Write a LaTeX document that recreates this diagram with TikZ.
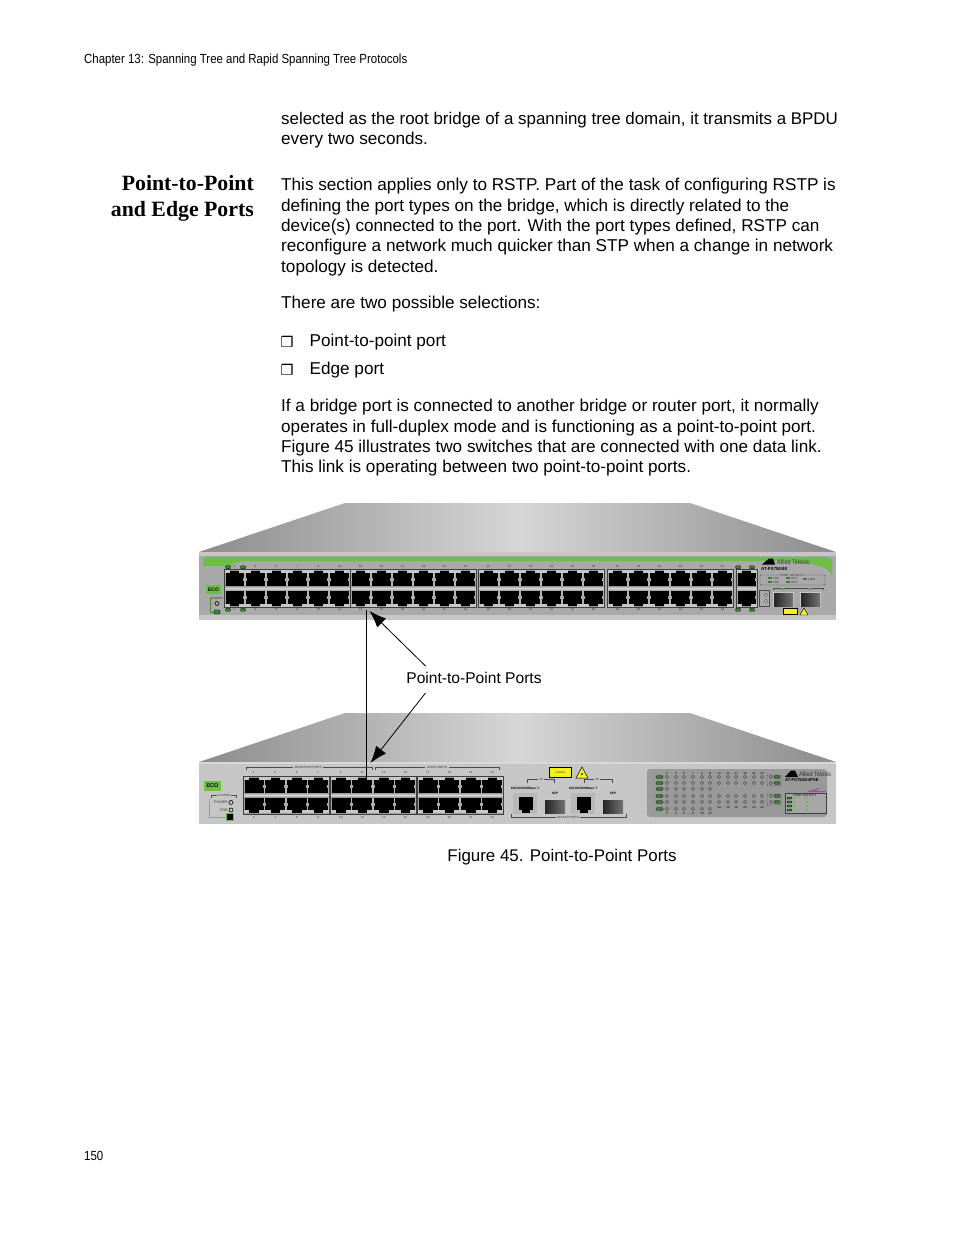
\documentclass[tikz,border=0pt]{standalone}
\usepackage{fontspec}
\setmainfont{Liberation Sans}
\newfontfamily\headserif{Liberation Serif}
\newfontfamily\symbfont{DejaVu Sans}
\usetikzlibrary{arrows.meta}
\definecolor{panelgrey}{HTML}{A9A9A9}
\definecolor{lowgrey}{HTML}{C6C6C6}
\definecolor{framegrey}{HTML}{9A9A9A}
\definecolor{tabgrey}{HTML}{C8C8C8}
\definecolor{atigreen}{HTML}{6CBE45}
\definecolor{ledgreen}{HTML}{3F7F35}
\definecolor{warnyellow}{HTML}{F4F01E}
\newcommand{\bodyfont}{\fontsize{17.15}{20.45}\selectfont}
\newcommand{\tightfont}{\fontsize{16.92}{20.45}\selectfont}
\newcommand{\microfont}{\fontsize{3}{3.4}\selectfont}
% one block of RJ ports: x, y, columns, column width, row height, gap
\newcommand{\rjblock}[6]{
  \fill[framegrey] (#1,#2) rectangle ++({#3*#4},{2*#5+#6});
  \begin{scope}
    \clip (#1,#2) rectangle ++({#3*#4},{2*#5+#6});
    \fill[black] ({#1+1.5},{#2+1.5}) rectangle ++({#3*#4-3},{#5-1.5});
    \fill[black] ({#1+1.5},{#2+#5+#6}) rectangle ++({#3*#4-3},{#5-1.5});
    \foreach \c in {0,...,#3} {
      \fill[framegrey!75] ({#1+\c*#4-.9},{#2+1}) rectangle ++(1.8,{2*#5+#6-2});
      \fill[tabgrey!85!black] ({#1+\c*#4-1.6},{#2+#5*.5}) rectangle ++(3.2,3);
      \fill[tabgrey!85!black] ({#1+\c*#4-1.6},{#2+#5*1.5+#6-3}) rectangle ++(3.2,3);
      \fill[tabgrey] ({#1+\c*#4-6},{#2+1}) rectangle ++(12,2.6);
      \fill[tabgrey] ({#1+\c*#4-6},{#2+2*#5+#6-3.6}) rectangle ++(12,2.6);
    }
  \end{scope}
  \shade[top color=framegrey,bottom color=framegrey,middle color=white!85!black] (#1,{#2+#5}) rectangle ++({#3*#4},#6);
  \draw[black!75,line width=.6pt] (#1,#2) rectangle ++({#3*#4},{2*#5+#6});
}
% one SFP cage: x, y, width, height
\newcommand{\sfpcage}[4]{
  \fill[tabgrey] (#1,#2) rectangle ++(#3,#4);
  \shade[left color=black!85,right color=black!55] ({#1+1},{#2+1}) rectangle ++({#3-2},{#4-2});
}
\tikzset{
  bodytext/.style={anchor=north west,align=left,inner sep=0pt,font=\bodyfont},
  pagetext/.style={anchor=base west,inner sep=0pt,font=\fontsize{13.2}{15}\selectfont,xscale=.868},
  microtext/.style={inner sep=0pt,font=\microfont,text=black!80},
  roof/.style={left color=black!45,right color=black!45,middle color=black!16},
  portarrow/.style={-{Latex[length=17pt,width=12.5pt]},line width=.8pt},
  ledpill/.style={fill=ledgreen,draw=black,line width=.3pt,rounded corners=.8pt},
  ledhole/.style={draw=black!80,fill=black!15,line width=.4pt},
}
\begin{document}
\begin{tikzpicture}[x=1pt,y=-1pt]
  \useasboundingbox (0,0) rectangle (954,1235);
  \fill[white] (0,0) rectangle (954,1235);

  % page text
  \node (chapter) [pagetext] at (84,63) {Chapter 13: Spanning Tree and Rapid Spanning Tree Protocols};
  \node (pagenum) [pagetext] at (84,1160) {150};
  \node (intro) [bodytext,font=\tightfont] at (281,112) {selected as the root bridge of a spanning tree domain, it transmits a BPDU\\{\bodyfont every two seconds.}};
  \node (heading) [anchor=north east,align=right,inner sep=0pt,font=\headserif\bfseries\fontsize{21.8}{26}\selectfont] at (254,175) {Point-to-Point\\and Edge Ports};
  \node (applies) [bodytext] at (281,178) {This section applies only to RSTP. Part of the task of configuring RSTP is\\defining the port types on the bridge, which is directly related to the\\device(s) connected to the port. With the port types defined, RSTP can\\reconfigure a network much quicker than STP when a change in network\\topology is detected.};
  \node (selections) [bodytext] at (281,296) {There are two possible selections:};
  \node (bulletA) [inner sep=0pt,font=\symbfont\fontsize{14.5}{14.5}\selectfont] at (287,342) {❒};
  \node (bulletB) [inner sep=0pt,font=\symbfont\fontsize{14.5}{14.5}\selectfont] at (287,370) {❒};
  \node (itemA) [bodytext] at (309.5,334) {Point-to-point port};
  \node (itemB) [bodytext] at (309.5,362) {Edge port};
  \node (bridge) [bodytext] at (281,399) {If a bridge port is connected to another bridge or router port, it normally\\operates in full-duplex mode and is functioning as a point-to-point port.\\Figure 45 illustrates two switches that are connected with one data link.\\This link is operating between two point-to-point ports.};
  \node (caption) [bodytext,anchor=north,font=\tightfont] at (562,849) {Figure 45. Point-to-Point Ports};

  % upper switch
  \shade[roof] (199,552) -- (345,503) -- (690,503) -- (836,552) -- cycle;
  \fill[panelgrey] (199,552) rectangle (836,620);
  \fill[lowgrey] (199,552) rectangle (836,556);
  \fill[lowgrey] (199,615) rectangle (836,620);
  \fill[atigreen] (203,566) -- (203,559) -- (206,557) -- (828,557) -- (832,560) -- (832,576) .. controls (829,566) and (815,562) .. (770,561) -- (245,561) .. controls (238,561) and (234,563) .. (230,566) -- cycle;
  \foreach \gx [count=\g from 0] in {224,350,478,607} {
    \rjblock{\gx}{569}{6}{21}{17}{4.5}
    \foreach \c in {1,...,6} {
      \pgfmathtruncatemacro{\odd}{12*\g+2*\c-1}
      \pgfmathtruncatemacro{\even}{12*\g+2*\c}
      \node (upodd\odd) [microtext] at ({\gx+(\c-.5)*21},566.5) {\odd};
      \node (upeven\even) [microtext] at ({\gx+(\c-.5)*21},609.5) {\even};
    }
  }
  \rjblock{736}{569}{1}{21}{17}{4.5}
  \foreach \lx in {228,243,738,752} {
    \fill[ledpill] (\lx-2.5,565.8) rectangle ++(5,3);
    \fill[ledpill] (\lx-2.5,608.2) rectangle ++(5,3);
  }
  \fill[atigreen] (206,585) rectangle (221,594);
  \node (uplogo) [microtext,text=black,font=\bfseries\fontsize{5}{5}\selectfont] at (213.5,589.5) {ECO};
  \draw[atigreen!70!black,line width=.5pt] (212,598) -- (210.5,598) -- (210.5,612) -- (214,612);
  \node (uppower) [microtext] at (217,598.8) {POWER};
  \draw[black,fill=panelgrey,line width=.6pt] (217,603.5) circle (2);
  \fill[ledpill] (214,610) rectangle ++(6,4);
  \fill[black] (769,558.5) -- (773,558.5) -- (775,564.5) -- (762,564.5) -- cycle;
  \node (upbrand) [microtext,anchor=west,font=\fontsize{6.5}{7}\selectfont,xscale=.85] at (777,562) {Allied Telesis};
  \node (upmodel) [microtext,anchor=west,text=black,font=\bfseries\fontsize{4.4}{5}\selectfont] at (761,569) {AT-FS750/48};
  \draw[black!70,line width=.4pt,rounded corners=1pt] (760,575) rectangle (825,585);
  \node (upactivity) [microtext,fill=panelgrey] at (792,575) {PORT ACTIVITY};
  \foreach \lx/\ly/\ltxt in {775/578/LNK,775/582/FDX,793/578/ACT,793/582/HDX,810/579/1000} {
    \fill[ledgreen] (\lx-7,\ly-1) rectangle ++(4,2);
    \node (upled\ltxt) [microtext,anchor=west] at (\lx-2,\ly) {\ltxt};
  }
  \draw[black!70,line width=.4pt] (759,590) rectangle (769,606);
  \draw[ledhole] (766,595) circle (1.6);
  \draw[ledhole] (766,601) circle (1.6);
  \draw[black!70,line width=.4pt] (773,590) -- (773,588) -- (823,588) -- (823,590);
  \node (up49) [microtext,fill=panelgrey] at (783,589.5) {49};
  \node (up50) [microtext,fill=panelgrey] at (810,589.5) {50};
  \sfpcage{773}{592}{21}{15}
  \sfpcage{800}{592}{21}{15}
  \fill[warnyellow,draw=black,line width=.7pt] (783.5,608) rectangle (797,614);
  \fill[warnyellow,draw=black,line width=.4pt] (804,608) -- (808,615) -- (800,615) -- cycle;

  % lower switch
  \shade[roof] (199,762) -- (345,713) -- (690,713) -- (836,762) -- cycle;
  \fill[lowgrey] (199,762) rectangle (836,824);
  \fill[tabgrey!70!white] (199,762) rectangle (836,764);
  \foreach \gx [count=\g from 0] in {243,330,417} {
    \rjblock{\gx}{776}{4}{21.5}{17}{4}
    \foreach \c in {1,...,4} {
      \pgfmathtruncatemacro{\odd}{8*\g+2*\c-1}
      \pgfmathtruncatemacro{\even}{8*\g+2*\c}
      \node (lowodd\odd) [microtext] at ({\gx+(\c-.5)*21.5},772.5) {\odd};
      \node (loweven\even) [microtext] at ({\gx+(\c-.5)*21.5},817.5) {\even};
    }
  }
  \draw[black!70,line width=.4pt] (246,770) -- (246,767) -- (372,767) -- (372,770);
  \draw[black!70,line width=.4pt] (375,770) -- (375,767) -- (499,767) -- (499,770);
  \node (poeports) [microtext,fill=lowgrey,inner xsep=1.5pt] at (308,767) {10/100 POE PORTS};
  \node (plainports) [microtext,fill=lowgrey,inner xsep=1.5pt] at (437,767) {10/100 PORTS};
  \fill[atigreen] (204,781) rectangle (221,791);
  \node (lowlogo) [microtext,text=black,font=\bfseries\fontsize{5.5}{6}\selectfont] at (212.5,786) {ECO};
  \draw[black!70,line width=.4pt] (211,798) -- (211,795.5) -- (236,795.5) -- (236,798);
  \node (lowsystem) [microtext,fill=lowgrey,inner xsep=1pt] at (224,795.5) {SYSTEM};
  \node (lowpower) [microtext,font=\fontsize{3.6}{4}\selectfont] at (221,802.5) {POWER};
  \node (lowpoe) [microtext,font=\fontsize{3.6}{4}\selectfont] at (224,810) {POE};
  \draw[black,fill=lowgrey,line width=.6pt] (231,802.5) circle (2);
  \draw[black,fill=lowgrey,line width=.6pt] (231,810) circle (2);
  \draw[atigreen,line width=.6pt] (209,799) -- (209,817) -- (226,817);
  \fill[black,draw=atigreen,line width=1.2pt] (226.5,813.5) rectangle (233.5,820.5);
  % uplink ports
  \fill[warnyellow,draw=black,line width=1pt] (549.5,767.5) rectangle (571.5,777.5);
  \node (warnlabel) [microtext,text=black,font=\fontsize{2.4}{2.8}\selectfont] at (560.5,772.5) {CLASS 1};
  \fill[warnyellow,draw=black,line width=.5pt] (582,767) -- (588,778) -- (576,778) -- cycle;
  \fill[black] (582,774) circle (1);
  \draw[black!70,line width=.4pt] (527,783) -- (527,779.5) -- (554,779.5) -- (554,783);
  \draw[black!70,line width=.4pt] (584,783) -- (584,779.5) -- (612,779.5) -- (612,783);
  \node (port25) [microtext,fill=lowgrey,inner xsep=1pt] at (541,779.5) {25};
  \node (port26) [microtext,fill=lowgrey,inner xsep=1pt] at (597,779.5) {26};
  \foreach \ux [count=\u] in {0,58} {
    \fill[framegrey!70] (513+\ux,793) rectangle ++(24,21);
    \fill[black] (518.5+\ux,797) rectangle ++(14.5,13);
    \fill[black] (522+\ux,810) rectangle ++(7.5,3);
    \sfpcage{544+\ux}{799}{22}{15}
    \node (base\u) [microtext,text=black,font=\bfseries\fontsize{3.2}{4}\selectfont] at (525+\ux,788) {10/100/1000Base-T};
    \node (sfp\u) [microtext,text=black,font=\bfseries\fontsize{3.2}{4}\selectfont] at (555+\ux,793) {SFP};
  }
  \draw[black!70,line width=.4pt] (511,814) -- (511,817) -- (626,817) -- (626,814);
  \node (uplinkports) [microtext,fill=lowgrey,inner xsep=1.5pt] at (568,817) {UPLINK PORTS};
  % led panel
  \fill[black!40,rounded corners=3pt] (647,769) rectangle (827,817);
  \foreach \ry [count=\r] in {777,783,789,796,802,809} {
    \fill[ledpill] (656,\ry-1.3) rectangle ++(7,2.6);
    \foreach \cx [count=\c] in {667,676,684,693,702,710,719,728,736,745,754,762} {
      \pgfmathtruncatemacro{\keep}{or(\c<7,and(\r!=3,\r!=6))}
      \ifnum\keep=1
        \draw[ledhole] (\cx,\ry) circle (1.5);
      \fi
    }
  }
  \foreach \cx [count=\c] in {667,676,684,693,702,710,719,728,736,745,754,762} {
    \pgfmathtruncatemacro{\odd}{2*\c-1}
    \pgfmathtruncatemacro{\even}{2*\c}
    \node (ledodd\odd) [microtext,text=black] at (\cx,773) {\odd};
    \pgfmathtruncatemacro{\evy}{\c<7 ? 813 : 807}
    \node (ledeven\even) [microtext,text=black] at (\cx,\evy) {\even};
  }
  \draw[black!70,line width=.4pt,rounded corners=1pt] (767,775) rectangle (781,786);
  \draw[black!70,line width=.4pt,rounded corners=1pt] (767,794) rectangle (781,805);
  \foreach \ry in {777,783,796,802} {
    \draw[ledhole] (771,\ry) circle (1.5);
    \fill[ledpill] (774,\ry-1.3) rectangle ++(6,2.6);
  }
  \fill[black] (791,770.5) -- (795,770.5) -- (798,777) -- (785,777) -- cycle;
  \node (lowbrand) [microtext,anchor=west,font=\fontsize{6.5}{7}\selectfont,xscale=.85] at (799,774) {Allied Telesis};
  \node (lowmodel) [microtext,anchor=west,text=black,font=\bfseries\fontsize{4.2}{5}\selectfont] at (785,780) {AT-FS750/24POE};
  \fill[violet!70] (808,791) -- (820,788) -- (816,791) -- (826,791) -- (826,792) -- (808,792) -- cycle;
  \draw[black!75,fill=black!35,line width=.4pt] (785,793) rectangle (826,813);
  \node (lowactivity) [microtext,text=black] at (805,795.5) {PORT ACTIVITY};
  \foreach \ly in {798,802,806,810} {
    \fill[ledpill] (787,\ly-1) rectangle ++(5,2);
    \fill[atigreen] (793.5,\ly-.8) rectangle ++(1.8,1.6);
    \fill[atigreen] (806,\ly-.8) rectangle ++(1.8,1.6);
  }

  % link and labels
  \coordinate (uplink) at (366,610);
  \coordinate (lowlink) at (366,779);
  \coordinate (upport) at (369.5,611);
  \coordinate (lowport) at (370.5,763);
  \node (ptplabel) [inner sep=0pt,font=\fontsize{15.6}{18}\selectfont] at (474,677.5) {Point-to-Point Ports};
  \coordinate (uptail) at (425.5,666);
  \coordinate (lowtail) at (425.5,693);
  \draw[line width=.9pt] (uplink) -- (lowlink);
  \draw[portarrow] (uptail) -- (upport);
  \draw[portarrow] (lowtail) -- (lowport);
\end{tikzpicture}
\end{document}
